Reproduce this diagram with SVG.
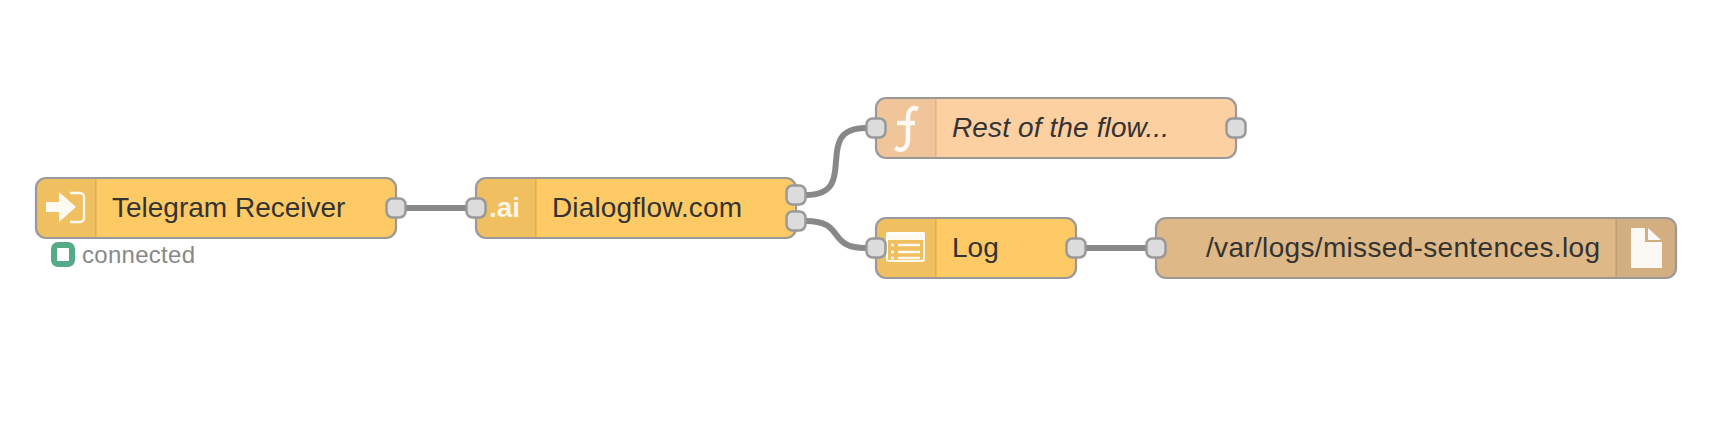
<svg xmlns="http://www.w3.org/2000/svg" width="1716" height="422" viewBox="0 0 1716 422">
<style>
.node{stroke:#999;stroke-width:2.2}
.sep{stroke:#000;stroke-opacity:.08;stroke-width:2}
.shade{fill:#000;fill-opacity:.05}
.port{fill:#dcdcdc;stroke:#999;stroke-width:2.5}
.wire{fill:none;stroke:#888;stroke-width:6}
text{font-family:"Liberation Sans",Arial,sans-serif;font-size:28px;fill:#333}
.ic{fill:#fff;fill-opacity:.92}
.il{fill:none;stroke:#fff;stroke-opacity:.9}
</style>
<rect width="1716" height="422" fill="#fff"/>
<g id="connectors">
<path class="wire" d="M806 195C862 195 810 128 866 128"/>
<path class="wire" d="M806 221C846 221 826 248 866 248"/>
<path class="wire" d="M406 208H466"/>
<path class="wire" d="M1086 248H1146"/>
</g>
<g id="telegram-receiver">
<rect class="node" x="36" y="178" width="360" height="60" rx="10" fill="#fdca66"/>
<path class="shade" d="M37 188a9 9 0 0 1 9-9H96V237H46a9 9 0 0 1-9-9z"/>
<path class="sep" d="M96 179V237"/>
<path class="ic" d="M46 202H59V192L76 207L59 222V212H46z"/>
<path class="il" d="M70 193H80a4 4 0 0 1 4 4V218a4 4 0 0 1-4 4H70" stroke-width="2.4"/>
<text x="112" y="217">Telegram Receiver</text>
<rect class="port" x="386.5" y="198.5" width="19" height="19" rx="6"/>
<rect x="54" y="245" width="18" height="19" rx="4" fill="#fff" stroke="#5a8" stroke-width="6"/>
<text x="82" y="263" textLength="113" style="font-size:24px;fill:#888">connected</text>
</g>
<g id="dialogflow">
<rect class="node" x="476" y="178" width="320" height="60" rx="10" fill="#fdca66"/>
<path class="shade" d="M477 188a9 9 0 0 1 9-9H536V237H486a9 9 0 0 1-9-9z"/>
<path class="sep" d="M536 179V237"/>
<text x="489" y="217" style="font-weight:bold;fill:#fff;fill-opacity:.85">.ai</text>
<text x="552" y="217" textLength="190">Dialogflow.com</text>
<rect class="port" x="466.5" y="198.5" width="19" height="19" rx="6"/>
<rect class="port" x="786.5" y="185.5" width="19" height="19" rx="6"/>
<rect class="port" x="786.5" y="211.5" width="19" height="19" rx="6"/>
</g>
<g id="rest-of-flow">
<rect class="node" x="876" y="98" width="360" height="60" rx="10" fill="#fdd0a2"/>
<path class="shade" d="M877 108a9 9 0 0 1 9-9H936V157H886a9 9 0 0 1-9-9z"/>
<path class="sep" d="M936 99V157"/>
<path class="il" d="M918 109C911 106 908 111 908 119V138C908 149 902 152 895 148M897 123H915" stroke-width="4.5"/>
<text x="952" y="137" textLength="217" style="font-style:italic">Rest of the flow...</text>
<rect class="port" x="866.5" y="118.5" width="19" height="19" rx="6"/>
<rect class="port" x="1226.5" y="118.5" width="19" height="19" rx="6"/>
</g>
<g id="log">
<rect class="node" x="876" y="218" width="200" height="60" rx="10" fill="#fdca66"/>
<path class="shade" d="M877 228a9 9 0 0 1 9-9H936V277H886a9 9 0 0 1-9-9z"/>
<path class="sep" d="M936 219V277"/>
<rect class="il" x="887" y="233" width="37" height="28" rx="2" stroke-width="2"/>
<path class="ic" d="M888 232H923a2 2 0 0 1 2 2V240H886V234a2 2 0 0 1 2-2z"/>
<path class="il" d="M891 245H894M898 245H920M891 252H894M898 252H920M891 258H894M898 258H920" stroke-width="2.4"/>
<text x="952" y="257">Log</text>
<rect class="port" x="866.5" y="238.5" width="19" height="19" rx="6"/>
<rect class="port" x="1066.5" y="238.5" width="19" height="19" rx="6"/>
</g>
<g id="file-out">
<rect class="node" x="1156" y="218" width="520" height="60" rx="10" fill="#deb887"/>
<path class="shade" d="M1616 219H1665a10 10 0 0 1 10 10V267a10 10 0 0 1-10 10H1616z"/>
<path class="sep" d="M1616 219V277"/>
<path class="ic" d="M1631 228H1645V242H1662V268H1631z"/>
<path class="ic" d="M1648 228L1661 240H1648z"/>
<text x="1206" y="257" textLength="394">/var/logs/missed-sentences.log</text>
<rect class="port" x="1146.5" y="238.5" width="19" height="19" rx="6"/>
</g>
</svg>
